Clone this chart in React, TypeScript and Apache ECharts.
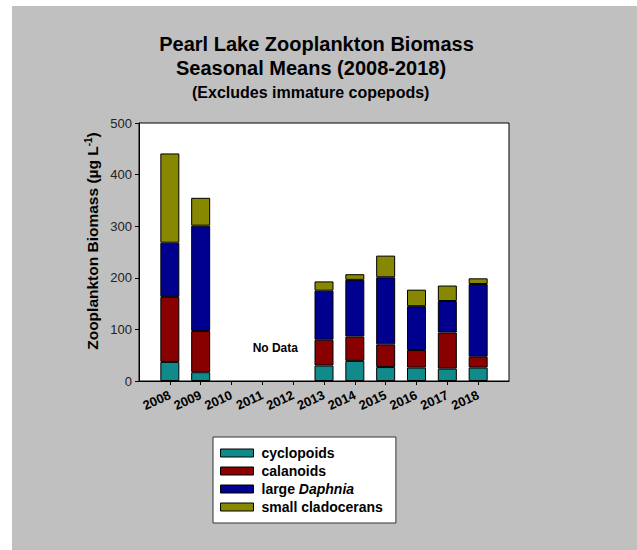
import React, { useEffect, useRef } from "react";
import * as echarts from "echarts";

const years = ["2008", "2009", "2010", "2011", "2012", "2013", "2014", "2015", "2016", "2017", "2018"];
const cyclopoids = [37, 17, null, null, null, 30, 39, 27, 26, 24, 26];
const calanoids = [126, 80, null, null, null, 50, 47, 44, 34, 70, 21];
const largeDaphnia = [105, 204, null, null, null, 95, 110, 130, 85, 61, 141];
const smallCladocerans = [173, 54, null, null, null, 18, 11, 42, 32, 30, 11];
const seriesNames = ["cyclopoids", "calanoids", "large Daphnia", "small cladocerans"];
const seriesColors = ["#108a8a", "#880000", "#00008f", "#878700"];
const yMin = 0;
const yMax = 500;
const yStep = 100;

const FONT = "'Liberation Sans', Arial, Helvetica, sans-serif";

export default function App() {
  const ref = useRef<HTMLDivElement>(null);
  useEffect(() => {
    const chart = echarts.init(ref.current!, null, { renderer: "svg" });
    const cats = ["", ...years, ""];
    const pad = (a: (number | null)[]) => [null, ...a, null];
    const values = [cyclopoids, calanoids, largeDaphnia, smallCladocerans];
    const series = values.map((v, i) => ({
      type: "bar",
      name: seriesNames[i],
      stack: "total",
      data: pad(v),
      barWidth: 19,
      itemStyle: { color: seriesColors[i], borderColor: "#000", borderWidth: 1 },
    }));
    const showCat = (_i: number, val: string) => val !== "";
    chart.setOption({
      animation: false,
      backgroundColor: "transparent",
      textStyle: { fontFamily: FONT },
      grid: {
        left: 139,
        top: 123,
        width: 370,
        height: 258,
        show: true,
        backgroundColor: "#ffffff",
        borderColor: "#000",
        borderWidth: 1,
      },
      xAxis: {
        type: "category",
        data: cats,
        boundaryGap: false,
        axisLine: { show: true, lineStyle: { color: "#000", width: 1 } },
        axisTick: { show: true, interval: showCat, length: 4, lineStyle: { color: "#000" } },
        axisLabel: {
          interval: showCat,
          showMinLabel: true,
          showMaxLabel: true,
          hideOverlap: false,
          rotate: 25,
          margin: 13,
          fontSize: 13,
          lineHeight: 10,
          fontWeight: "bold",
          color: "#000",
          fontFamily: FONT,
        },
        splitLine: { show: false },
      },
      yAxis: {
        type: "value",
        min: yMin,
        max: yMax,
        interval: yStep,
        axisLine: { show: true, lineStyle: { color: "#000", width: 1 } },
        axisTick: { show: true, length: 4, lineStyle: { color: "#000" } },
        axisLabel: { margin: 7, fontSize: 13, color: "#222", fontFamily: FONT },
        splitLine: { show: false },
      },
      legend: {
        orient: "vertical",
        left: 213,
        top: 437,
        padding: [9, 13, 9, 7],
        backgroundColor: "#ffffff",
        borderColor: "#333",
        borderWidth: 1,
        itemWidth: 33,
        itemHeight: 8,
        itemGap: 4,
        icon: "rect",
        data: seriesNames,
        itemStyle: { borderColor: "#000", borderWidth: 1 },
        formatter: (name: string) =>
          name === "large Daphnia" ? "large {i|Daphnia}" : name,
        textStyle: {
          fontSize: 14,
          fontWeight: "bold",
          lineHeight: 14,
          color: "#000",
          fontFamily: FONT,
          padding: [0, 0, 0, 3],
          rich: {
            i: { fontSize: 14, fontWeight: "bold", fontStyle: "italic", color: "#000", fontFamily: FONT, lineHeight: 14 },
          },
        },
      },
      graphic: [
        {
          type: "text",
          x: 316.5,
          y: 44.3,
          style: {
            text: "Pearl Lake Zooplankton Biomass",
            font: `bold 20px ${FONT}`,
            fill: "#000",
            align: "center",
            verticalAlign: "middle",
          },
        },
        {
          type: "text",
          x: 311,
          y: 68.3,
          style: {
            text: "Seasonal Means (2008-2018)",
            font: `bold 20px ${FONT}`,
            fill: "#000",
            align: "center",
            verticalAlign: "middle",
          },
        },
        {
          type: "text",
          x: 310.7,
          y: 92,
          style: {
            text: "(Excludes immature copepods)",
            font: `bold 16px ${FONT}`,
            fill: "#000",
            align: "center",
            verticalAlign: "middle",
          },
        },
        {
          type: "text",
          x: 92,
          y: 241,
          rotation: Math.PI / 2,
          style: {
            text: "{a|Zooplankton Biomass (µg L}{s|-1}{a|)}",
            fill: "#000",
            align: "center",
            verticalAlign: "middle",
            rich: {
              a: { fontSize: 15.5, fontWeight: "bold", fontFamily: FONT, fill: "#000", lineHeight: 18 },
              s: { fontSize: 10, fontWeight: "bold", fontFamily: FONT, fill: "#000", verticalAlign: "top", lineHeight: 10 },
            },
          },
        },
        {
          type: "text",
          x: 275.3,
          y: 347.7,
          style: {
            text: "No Data",
            font: `bold 12px ${FONT}`,
            fill: "#000",
            align: "center",
            verticalAlign: "middle",
          },
        },
      ],
      series,
    });
    return () => chart.dispose();
  }, []);
  return (
    <div style={{ position: "absolute", left: 0, top: 0, width: 637, height: 550, background: "#ffffff", overflow: "hidden" }}>
      <div style={{ position: "absolute", left: 12, top: 6, right: 0, bottom: 0, background: "#c0c0c0" }} />
      <div ref={ref} style={{ position: "absolute", left: 0, top: 0, width: 637, height: 550 }} />
    </div>
  );
}
